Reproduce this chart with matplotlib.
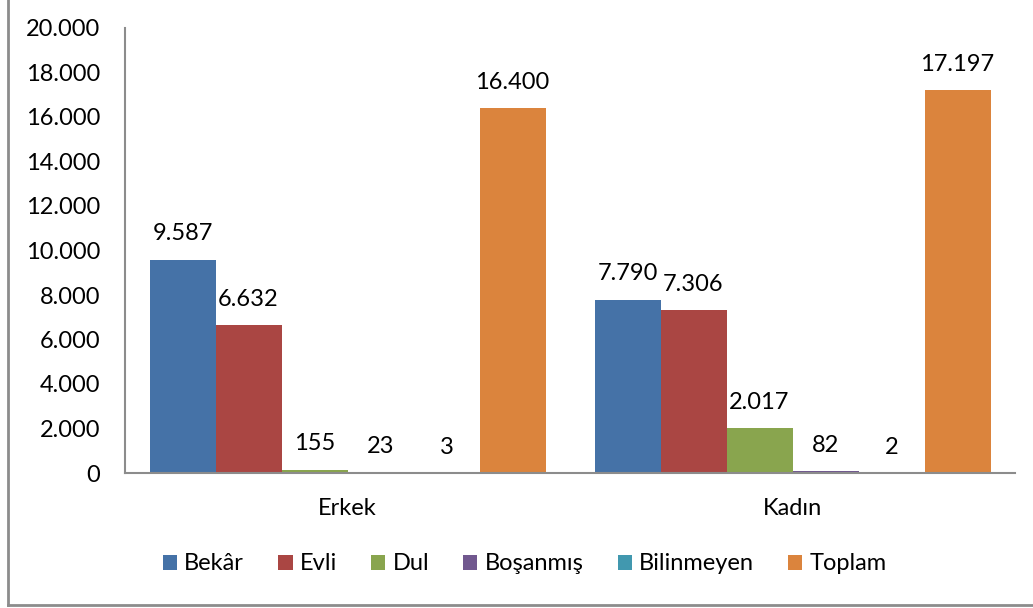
import matplotlib
matplotlib.use("Agg")
import matplotlib.pyplot as plt
import numpy as np
from matplotlib.lines import Line2D

categories = ["Erkek", "Kadın"]
series = ["Bekâr", "Evli", "Dul", "Boşanmış", "Bilinmeyen", "Toplam"]
bekar = [9587, 7790]
evli = [6632, 7306]
dul = [155, 2017]
bosanmis = [23, 82]
bilinmeyen = [3, 2]
toplam = [16400, 17197]
yticks = [0, 2000, 4000, 6000, 8000, 10000, 12000, 14000, 16000, 18000, 20000]

colors = ["#4572A7", "#AA4643", "#89A54E", "#71588F", "#4198AF", "#DB843D"]
values = [bekar, evli, dul, bosanmis, bilinmeyen, toplam]


def tr(v):
    return f"{v:,}".replace(",", ".")


plt.rcParams["font.family"] = ["Lato", "DejaVu Sans"]
plt.rcParams["font.size"] = 17

fig = plt.figure(figsize=(10.33, 6.08), dpi=100)
ax = fig.add_axes([125 / 1033, 1 - 473 / 608, 890 / 1033, 445 / 608])

x = np.arange(len(categories))
w = 66 / 445
for i, (name, vals, c) in enumerate(zip(series, values, colors)):
    pos = x + (i - 2.5) * w
    bars = ax.bar(pos, vals, width=w, color=c, label=name)
    for b, v in zip(bars, vals):
        ax.annotate(tr(v), (b.get_x() + w / 2, v), xytext=(0, 11),
                    textcoords="offset points", ha="center", va="bottom")

ax.set_xlim(-0.5, 1.5)
ax.set_ylim(0, 20000)
ax.set_yticks(yticks)
ax.set_yticklabels([tr(t) for t in yticks])
ax.set_xticks(x)
ax.set_xticklabels(categories)
ax.tick_params(length=0)
ax.tick_params(axis="y", pad=18)
ax.tick_params(axis="x", pad=18)
for s in ["top", "right"]:
    ax.spines[s].set_visible(False)
for s in ["left", "bottom"]:
    ax.spines[s].set_color("#8c8c8c")
    ax.spines[s].set_linewidth(1.5)

fig.legend(loc="center", bbox_to_anchor=(0.508, 1 - 564 / 608), ncol=6,
           frameon=False, handlelength=0.6, handleheight=0.6,
           handletextpad=0.3, columnspacing=1.45)

# outer chart border (left and bottom visible)
fig.add_artist(Line2D([8 / 1033, 8 / 1033], [1 - 605 / 608, 1.0],
                      transform=fig.transFigure, color="#8c8c8c", lw=2))
fig.add_artist(Line2D([8 / 1033, 1.0], [1 - 605 / 608, 1 - 605 / 608],
                      transform=fig.transFigure, color="#8c8c8c", lw=2))

fig.savefig("out.png", dpi=100)
